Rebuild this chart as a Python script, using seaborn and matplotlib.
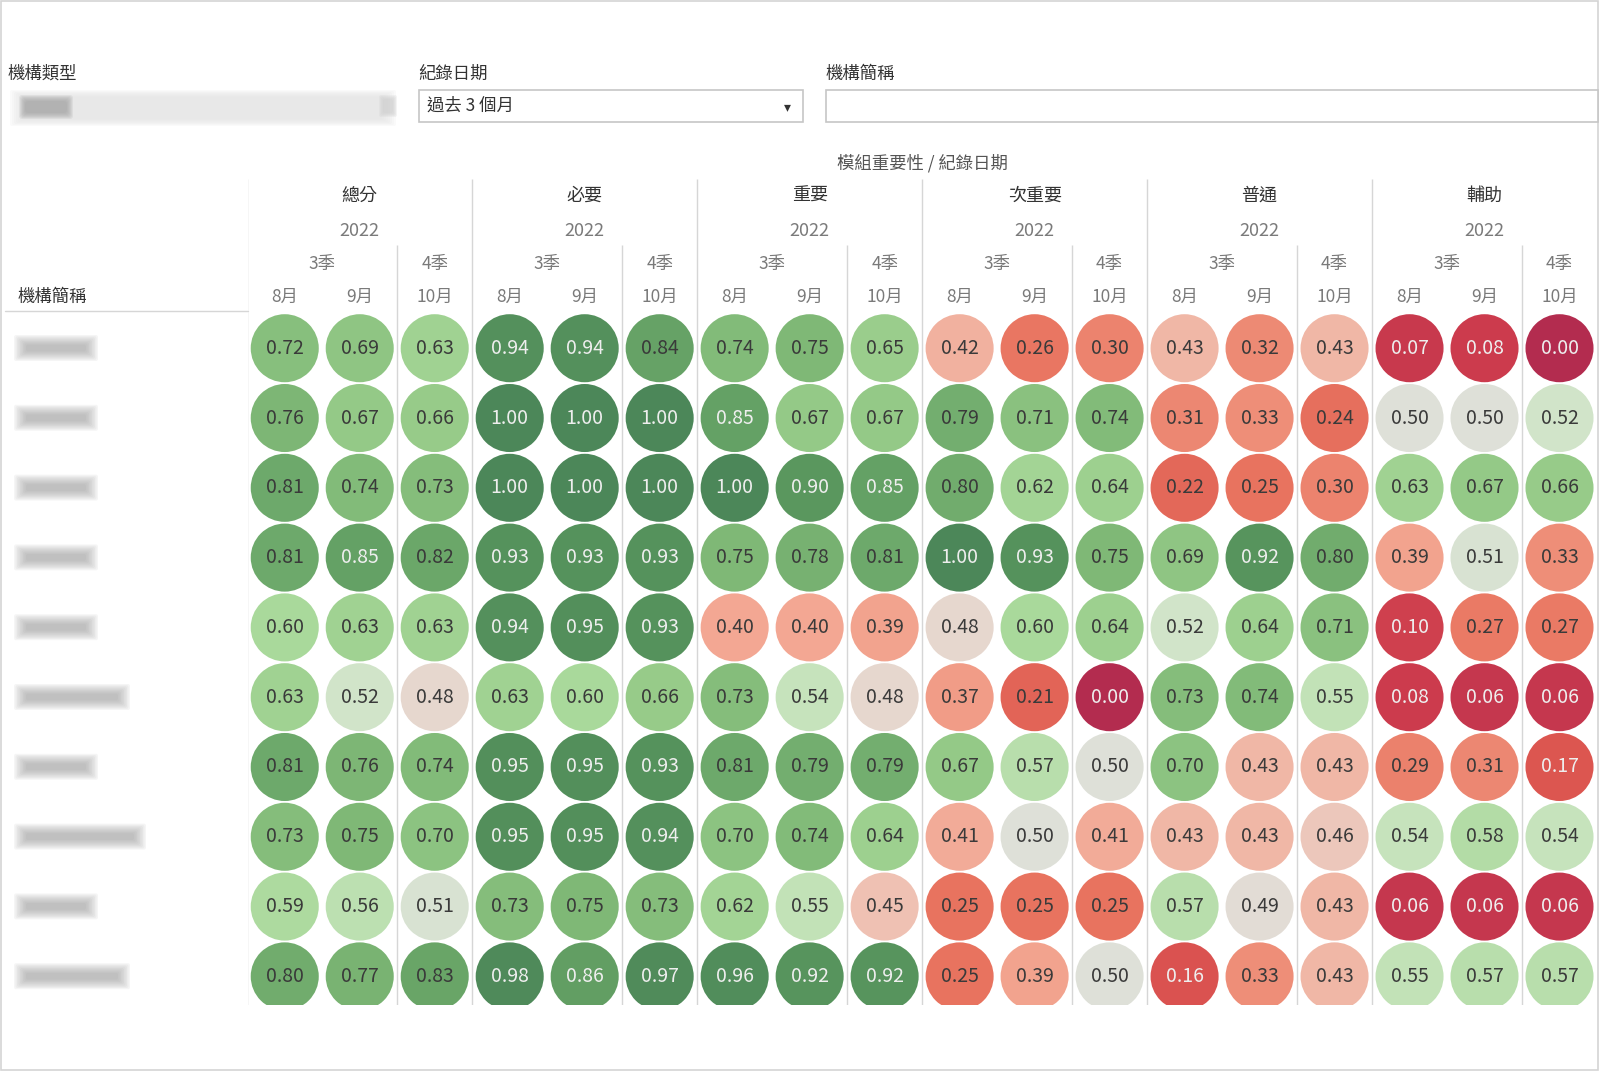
import numpy as np
import pandas as pd
import matplotlib.pyplot as plt
import seaborn as sns
from matplotlib.colors import LinearSegmentedColormap
from matplotlib.patches import Rectangle, FancyBboxPatch

# header labels
groups = ['總分', '必要', '重要', '次重要', '普通', '輔助']
year = '2022'
quarters = ['3季', '4季']
months = ['8月', '9月', '10月']

# score per institution (10 rows, names redacted) for 8月 / 9月 / 10月
total = [[0.72, 0.69, 0.63], [0.76, 0.67, 0.66], [0.81, 0.74, 0.73], [0.81, 0.85, 0.82], [0.60, 0.63, 0.63],
         [0.63, 0.52, 0.48], [0.81, 0.76, 0.74], [0.73, 0.75, 0.70], [0.59, 0.56, 0.51], [0.80, 0.77, 0.83]]
essential = [[0.94, 0.94, 0.84], [1.00, 1.00, 1.00], [1.00, 1.00, 1.00], [0.93, 0.93, 0.93], [0.94, 0.95, 0.93],
             [0.63, 0.60, 0.66], [0.95, 0.95, 0.93], [0.95, 0.95, 0.94], [0.73, 0.75, 0.73], [0.98, 0.86, 0.97]]
important = [[0.74, 0.75, 0.65], [0.85, 0.67, 0.67], [1.00, 0.90, 0.85], [0.75, 0.78, 0.81], [0.40, 0.40, 0.39],
             [0.73, 0.54, 0.48], [0.81, 0.79, 0.79], [0.70, 0.74, 0.64], [0.62, 0.55, 0.45], [0.96, 0.92, 0.92]]
secondary = [[0.42, 0.26, 0.30], [0.79, 0.71, 0.74], [0.80, 0.62, 0.64], [1.00, 0.93, 0.75], [0.48, 0.60, 0.64],
             [0.37, 0.21, 0.00], [0.67, 0.57, 0.50], [0.41, 0.50, 0.41], [0.25, 0.25, 0.25], [0.25, 0.39, 0.50]]
normal = [[0.43, 0.32, 0.43], [0.31, 0.33, 0.24], [0.22, 0.25, 0.30], [0.69, 0.92, 0.80], [0.52, 0.64, 0.71],
          [0.73, 0.74, 0.55], [0.70, 0.43, 0.43], [0.43, 0.43, 0.46], [0.57, 0.49, 0.43], [0.16, 0.33, 0.43]]
auxiliary = [[0.07, 0.08, 0.00], [0.50, 0.50, 0.52], [0.63, 0.67, 0.66], [0.39, 0.51, 0.33], [0.10, 0.27, 0.27],
             [0.08, 0.06, 0.06], [0.29, 0.31, 0.17], [0.54, 0.58, 0.54], [0.06, 0.06, 0.06], [0.55, 0.57, 0.57]]

# redacted institution names: only their length is visible
name_len = [5, 5, 5, 5, 5, 7, 5, 8, 5, 7]

all_groups = [total, essential, important, secondary, normal, auxiliary]

records = []
for g, grp in enumerate(all_groups):
    for r, row in enumerate(grp):
        for m, v in enumerate(row):
            records.append({'row': r, 'col': g * 3 + m, 'value': v})
df = pd.DataFrame(records)

cmap = LinearSegmentedColormap.from_list('rdgn', [
    (0.00, '#b32c4f'), (0.08, '#cc3b4d'), (0.17, '#dc5650'), (0.25, '#e8735f'),
    (0.33, '#ee8e78'), (0.40, '#f3a793'), (0.45, '#efc0b2'), (0.48, '#e6d8d0'),
    (0.50, '#dfe0da'), (0.53, '#cbe5c2'), (0.60, '#a9d99b'), (0.66, '#97cb89'),
    (0.75, '#80b977'), (0.82, '#6ba769'), (0.90, '#5a975e'), (1.00, '#4c8759')])

sns.set_theme(style='white')
plt.rcParams['font.family'] = ['Noto Sans CJK TC', 'DejaVu Sans']

fig = plt.figure(figsize=(16, 10.72), dpi=100)
fig.patch.set_facecolor('white')

# page layer in pixel coordinates (filters, row header, frame)
bg = fig.add_axes([0, 0, 1, 1])
bg.set_xlim(0, 1600)
bg.set_ylim(1072, 0)
bg.axis('off')

bg.add_patch(Rectangle((1, 1), 1597, 1069, fill=False, ec='#d4d4d4', lw=1.2))

dark = '#333333'
grey = '#7a7a7a'
bg.text(8, 74, '機構類型', fontsize=12.5, color=dark, va='center')
bg.text(418, 74, '紀錄日期', fontsize=12.5, color=dark, va='center')
bg.text(826, 74, '機構簡稱', fontsize=12.5, color=dark, va='center')

# blurred filter value
for k in range(8):
    bg.add_patch(FancyBboxPatch((12 + k * 2, 92 + k), 382 - k * 4, 32 - 2 * k,
                                boxstyle='round,pad=2', fc='#e4e4e4', ec='none', alpha=0.18))
for k in range(7):
    bg.add_patch(FancyBboxPatch((22 + k, 98 + k), 48 - 2 * k, 18 - 2 * k,
                                boxstyle='round,pad=3', fc='#999999', ec='none', alpha=0.14))
for k in range(5):
    bg.add_patch(FancyBboxPatch((381 + k, 97 + k), 14 - 2 * k, 18 - 2 * k,
                                boxstyle='round,pad=2', fc='#cccccc', ec='none', alpha=0.2))

bg.add_patch(Rectangle((419, 90), 384, 32, fc='white', ec='#c6c6c6', lw=1.2))
bg.text(427, 106, '過去 3 個月', fontsize=12.5, color=dark, va='center')
bg.text(787, 107, '▾', fontsize=10, color=dark, va='center', ha='center')
bg.add_patch(Rectangle((826, 90), 772, 32, fc='white', ec='#c6c6c6', lw=1.2))

bg.text(18, 297, '機構簡稱', fontsize=12.5, color=dark, va='center')
bg.plot([5, 248], [311, 311], color='#d6d6d6', lw=1)

# blurred institution names
row_y0, row_dy = 348, 69.8
for i, n in enumerate(name_len):
    y = row_y0 + row_dy * i
    w = 16 * n
    for k in range(9):
        bg.add_patch(FancyBboxPatch((16 + k * 1.5, y - 11 + k * 1.2), w - k * 3, 22 - k * 2.4,
                                    boxstyle='round,pad=2', fc='#8c8c8c', ec='none', alpha=0.08))

# circle grid
ax = fig.add_axes([248 / 1600, 67 / 1072, 1352 / 1600, 855 / 1072])
ax.patch.set_alpha(0)
sns.scatterplot(data=df, x='col', y='row', hue='value', palette=cmap, hue_norm=(0, 1),
                s=2400, linewidth=0, legend=False, ax=ax, zorder=3)
ax.set_xlim(-0.49, 17.54)
ax.set_ylim(9.41, -2.84)
ax.axis('off')

for _, rec in df.iterrows():
    v = rec['value']
    tc = '#eeeeee' if (v >= 0.85 or v <= 0.17) else '#3a3a3a'
    ax.text(rec['col'], rec['row'], f'{v:.2f}', ha='center', va='center',
            fontsize=14, color=tc, zorder=4)

# separators
n_cols = len(groups) * len(months)
ax.vlines([g * 3 - 0.5 for g in range(len(groups))], -2.43, 9.41, color='#d6d6d6', lw=1, zorder=1)
ax.vlines([g * 3 + 1.5 for g in range(len(groups))], -1.48, 9.41, color='#d6d6d6', lw=1, zorder=1)

# column headers
ax.text((n_cols - 1) / 2, -2.65, '模組重要性 / 紀錄日期', ha='center', va='center', fontsize=12.5, color='#555555')
for g, name in enumerate(groups):
    ax.text(g * 3 + 1, -2.18, name, ha='center', va='center', fontsize=13, color=dark)
    ax.text(g * 3 + 1, -1.68, year, ha='center', va='center', fontsize=13, color=grey)
    ax.text(g * 3 + 0.5, -1.2, quarters[0], ha='center', va='center', fontsize=12.5, color=grey)
    ax.text(g * 3 + 2, -1.2, quarters[1], ha='center', va='center', fontsize=12.5, color=grey)
    for m, mn in enumerate(months):
        ax.text(g * 3 + m, -0.73, mn, ha='center', va='center', fontsize=12.5, color=grey)

plt.savefig('out.png', dpi=100)
